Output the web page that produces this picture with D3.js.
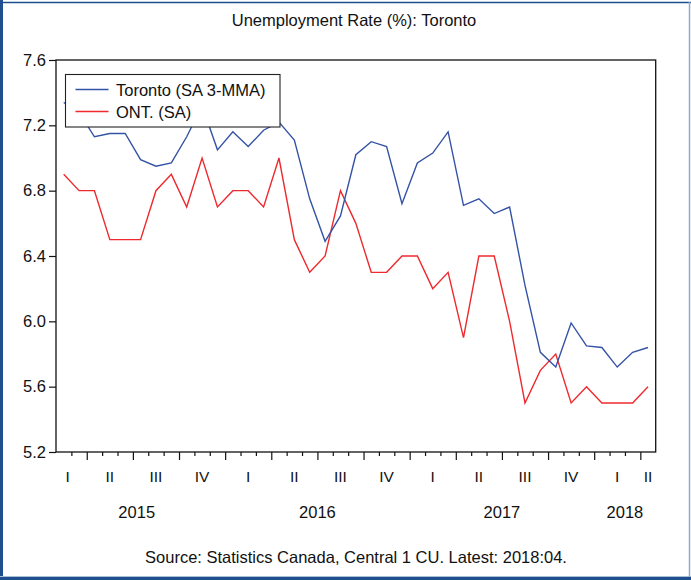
<!DOCTYPE html>
<html>
<head>
<meta charset="utf-8">
<script src="https://cdn.jsdelivr.net/npm/d3@7"></script>
<style>
  html, body { margin: 0; padding: 0; background: #fff; }
  text { font-family: "Liberation Sans", Arial, sans-serif; fill: #111; }
</style>
</head>
<body>
<svg id="chart" width="691" height="580"></svg>
<script>
// ---- data (monthly, Feb 2015 .. Apr 2018) ----
const months = [
  "2015-02","2015-03","2015-04","2015-05","2015-06","2015-07","2015-08","2015-09","2015-10","2015-11","2015-12",
  "2016-01","2016-02","2016-03","2016-04","2016-05","2016-06","2016-07","2016-08","2016-09","2016-10","2016-11","2016-12",
  "2017-01","2017-02","2017-03","2017-04","2017-05","2017-06","2017-07","2017-08","2017-09","2017-10","2017-11","2017-12",
  "2018-01","2018-02","2018-03","2018-04"
];
const torontoSA3MMA = [
  7.34, 7.28, 7.13, 7.15, 7.15, 6.99, 6.95, 6.97, 7.13, 7.32, 7.05,
  7.16, 7.07, 7.17, 7.22, 7.11, 6.75, 6.49, 6.645, 7.02, 7.10, 7.07, 6.72,
  6.97, 7.03, 7.16, 6.71, 6.75, 6.66, 6.70, 6.22, 5.81, 5.72, 5.99, 5.85, 5.84,
  5.72, 5.81, 5.84
];
const ontarioSA = [
  6.9, 6.8, 6.8, 6.5, 6.5, 6.5, 6.8, 6.9, 6.7, 7.0, 6.7,
  6.8, 6.8, 6.7, 7.0, 6.5, 6.3, 6.4, 6.8, 6.6, 6.3, 6.3, 6.4,
  6.4, 6.2, 6.3, 5.9, 6.4, 6.4, 6.0, 5.5, 5.7, 5.8, 5.5, 5.6, 5.5,
  5.5, 5.5, 5.6
];
const seriesNames = ["Toronto (SA 3-MMA)", "ONT. (SA)"];
const seriesColors = ["#3553a6", "#ee2a2e"];
const yTicks = [5.2, 5.6, 6.0, 6.4, 6.8, 7.2, 7.6];
const quarterNames = ["I", "II", "III", "IV"];
const titleText = "Unemployment Rate (%): Toronto";
const sourceText = "Source: Statistics Canada, Central 1 CU. Latest: 2018:04.";

// ---- layout ----
const W = 691, H = 580;
const plot = { left: 56, right: 655.7, top: 60, bottom: 452 };
const FONT = 16.5;

const svg = d3.select("#chart");

const x = d3.scaleLinear().domain([0, months.length]).range([plot.left, plot.right]);
const y = d3.scaleLinear().domain([5.2, 7.6]).range([plot.bottom, plot.top]);

// outer frame
svg.append("rect").attr("x", 0).attr("y", 0).attr("width", W).attr("height", H).attr("fill", "#fff");
svg.append("line").attr("x1", 1.5).attr("x2", 1.5).attr("y1", 0).attr("y2", H)
  .attr("stroke", "#1f4f8f").attr("stroke-width", 3);
svg.append("line").attr("x1", 0).attr("x2", W).attr("y1", 2.5).attr("y2", 2.5)
  .attr("stroke", "#1f4f8f").attr("stroke-width", 1.5);
svg.append("line").attr("x1", 0).attr("x2", W).attr("y1", 578.5).attr("y2", 578.5)
  .attr("stroke", "#1f4f8f").attr("stroke-width", 3);
svg.append("line").attr("x1", 0).attr("x2", W).attr("y1", 576.5).attr("y2", 576.5)
  .attr("stroke", "#a9bfd8").attr("stroke-width", 1);
svg.append("line").attr("x1", 689.5).attr("x2", 689.5).attr("y1", 2).attr("y2", 577)
  .attr("stroke", "#8eaad0").attr("stroke-width", 1.5);

// title
svg.append("text").attr("x", 354).attr("y", 26).attr("text-anchor", "middle")
  .style("font-size", FONT + "px").text(titleText);

// y axis
const yAxis = d3.axisLeft(y).tickValues(yTicks).tickFormat(d3.format(".1f"))
  .tickSize(7).tickPadding(3);
const gy = svg.append("g").attr("transform", `translate(${plot.left},0)`).call(yAxis);
gy.select(".domain").remove();
gy.selectAll(".tick line").attr("stroke", "#111").attr("stroke-width", 1.2);
gy.selectAll(".tick text").style("font-size", FONT + "px").style("font-family", "Liberation Sans, Arial, sans-serif").attr("fill", "#111");

// x ticks (month boundaries)
const monthIdx = months.map(m => +m.slice(5, 7));
const yearOf = months.map(m => +m.slice(0, 4));
const boundaries = d3.range(1, months.length);
const isQuarterStart = i => (monthIdx[i] - 1) % 3 === 0;
const xAxis = d3.axisBottom(x).tickValues(boundaries).tickFormat("")
  .tickSizeOuter(0).tickSizeInner(4);
const gx = svg.append("g").attr("transform", `translate(0,${plot.bottom})`).call(xAxis);
gx.select(".domain").remove();
gx.selectAll(".tick line")
  .attr("y2", d => isQuarterStart(d) ? 8 : 4)
  .attr("stroke", "#111").attr("stroke-width", 1.2);

// quarter & year labels
const groups = (keyFn, missingFn) => {
  const out = [];
  months.forEach((m, i) => {
    const k = keyFn(i);
    if (!out.length || out[out.length - 1].key !== k) out.push({ key: k, start: i, end: i + 1, missing: missingFn(i) });
    else out[out.length - 1].end = i + 1;
  });
  return out;
};
// months of the period that fall before the first observation
const quarters = groups(i => yearOf[i] + "Q" + Math.floor((monthIdx[i] - 1) / 3),
                        i => (monthIdx[i] - 1) % 3);
const years = groups(i => String(yearOf[i]), i => monthIdx[i] - 1);
// a period cut at the start is labelled between its visible and its full centre
const labelPos = d => x((d.start + d.end) / 2 - d.missing / 4);

svg.append("g").selectAll("text").data(quarters).join("text")
  .attr("x", labelPos)
  .attr("y", 481.5)
  .attr("text-anchor", "middle")
  .style("font-size", "15.5px")
  .text(d => quarterNames[+d.key.slice(-1)]);

svg.append("g").selectAll("text").data(years).join("text")
  .attr("x", labelPos)
  .attr("y", 518)
  .attr("text-anchor", "middle")
  .style("font-size", FONT + "px")
  .text(d => d.key);

// lines
const line = d3.line().x((d, i) => x(i + 0.5)).y(d => y(d));
const clipId = "plotclip";
svg.append("clipPath").attr("id", clipId).append("rect")
  .attr("x", plot.left).attr("y", plot.top)
  .attr("width", plot.right - plot.left).attr("height", plot.bottom - plot.top);
const gl = svg.append("g").attr("clip-path", `url(#${clipId})`);
gl.append("path").datum(ontarioSA).attr("d", line)
  .attr("fill", "none").attr("stroke", seriesColors[1]).attr("stroke-width", 1.4)
  .attr("stroke-linejoin", "miter");
gl.append("path").datum(torontoSA3MMA).attr("d", line)
  .attr("fill", "none").attr("stroke", seriesColors[0]).attr("stroke-width", 1.4)
  .attr("stroke-linejoin", "miter");

// plot frame
svg.append("rect")
  .attr("x", plot.left).attr("y", plot.top)
  .attr("width", plot.right - plot.left).attr("height", plot.bottom - plot.top)
  .attr("fill", "none").attr("stroke", "#111").attr("stroke-width", 1.3);

// legend
const lg = svg.append("g");
lg.append("rect").attr("x", 65.5).attr("y", 74.5).attr("width", 214.5).attr("height", 52.5)
  .attr("fill", "#fff").attr("stroke", "#222").attr("stroke-width", 1.1);
const legendRows = [89.5, 111.5];
seriesNames.forEach((name, k) => {
  lg.append("line").attr("x1", 75.5).attr("x2", 108.5)
    .attr("y1", legendRows[k]).attr("y2", legendRows[k])
    .attr("stroke", seriesColors[k]).attr("stroke-width", 1.4);
  lg.append("text").attr("x", 116).attr("y", legendRows[k] + 6)
    .style("font-size", FONT + "px").text(name);
});

// source
svg.append("text").attr("x", 356).attr("y", 562.5).attr("text-anchor", "middle")
  .style("font-size", FONT + "px").text(sourceText);
</script>
</body>
</html>
